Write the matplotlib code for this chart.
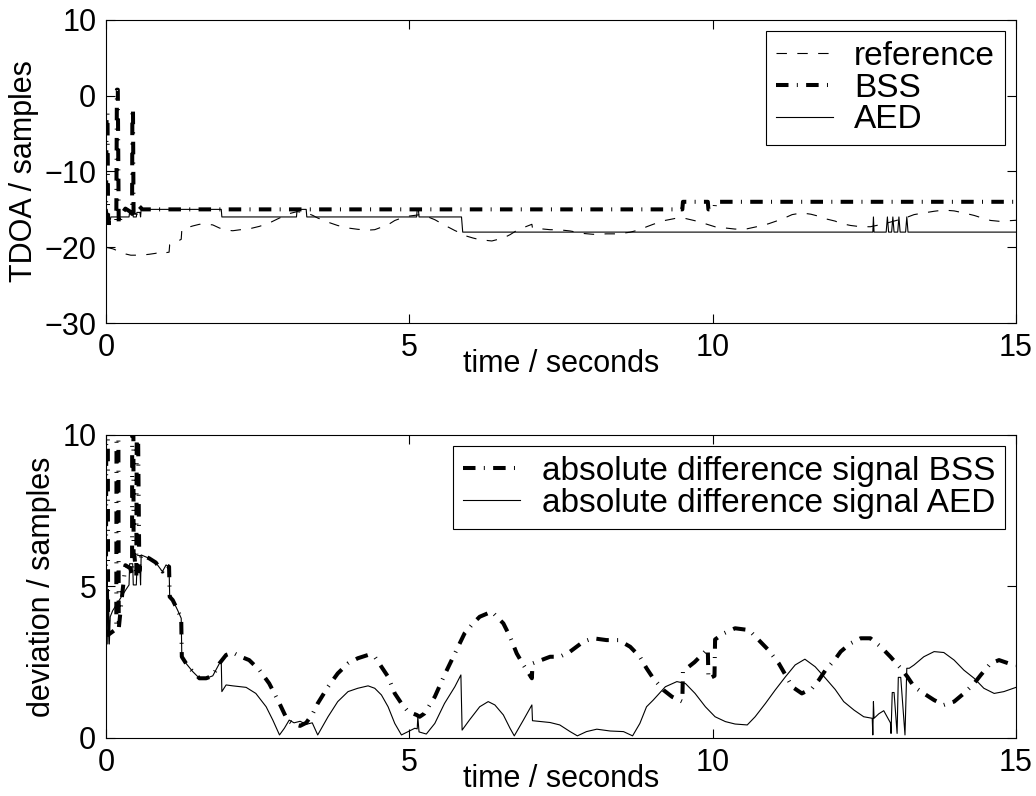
import numpy as np
import matplotlib
matplotlib.use("Agg")
import matplotlib.pyplot as plt

plt.rcParams['font.family'] = ['Liberation Sans', 'DejaVu Sans']
plt.rcParams['font.size'] = 22
plt.rcParams['lines.scale_dashes'] = False
plt.rcParams['axes.linewidth'] = 0.8

# ---------------------------------------------------------
# TDOA (samples) over time (seconds)
# ---------------------------------------------------------
t_ref = [0.0, 0.11, 0.22, 0.33, 0.41, 0.58, 0.71, 0.82, 0.93, 1.0, 1.04, 1.05, 1.1, 1.18,
         1.24, 1.25, 1.32, 1.43, 1.54, 1.65, 1.76, 1.87, 1.98, 2.09, 2.2, 2.36, 2.53, 2.69,
         2.86, 3.0, 3.15, 3.3, 3.41, 3.49, 3.66, 3.82, 3.99, 4.15, 4.32, 4.43, 4.54, 4.65,
         4.76, 4.87, 4.98, 5.12, 5.17, 5.25, 5.42, 5.58, 5.75, 5.85, 5.91, 6.05, 6.16, 6.36,
         6.55, 6.66, 6.77, 6.88, 7.02, 7.03, 7.32, 7.48, 7.65, 7.87, 8.03, 8.25, 8.45, 8.64,
         8.8, 8.91, 9.02, 9.19, 9.33, 9.41, 9.55, 9.71, 9.88, 10.04, 10.2, 10.37, 10.57,
         10.76, 10.92, 11.08, 11.2, 11.31, 11.47, 11.62, 11.75, 11.86, 12.02, 12.11, 12.27,
         12.44, 12.6, 12.77, 12.93, 13.1, 13.21, 13.32, 13.48, 13.65, 13.81, 13.98, 14.14,
         14.31, 14.42, 14.58, 14.72, 14.88, 15.0]
ref_tdoa = [-20.0, -20.2, -20.55, -20.9, -21.05, -21.04, -20.93, -20.8, -20.5, -20.7, -20.65,
            -19.66, -19.55, -19.22, -18.95, -17.68, -17.46, -17.19, -16.97, -16.95, -17.05,
            -17.46, -17.74, -17.82, -17.7, -17.57, -17.24, -16.8, -16.14, -15.6, -15.3, -15.45,
            -15.8, -16.14, -16.69, -17.13, -17.46, -17.63, -17.74, -17.68, -17.35, -17.02,
            -16.47, -16.14, -15.9, -15.76, -15.7, -15.81, -16.36, -17.08, -17.79, -18.15,
            -18.45, -18.78, -19.0, -19.17, -18.78, -18.34, -17.79, -17.41, -16.97, -17.46,
            -17.68, -17.7, -17.85, -18.18, -18.29, -18.23, -18.23, -18.01, -17.68, -17.3,
            -16.97, -16.5, -16.28, -16.15, -16.2, -16.5, -16.9, -17.3, -17.45, -17.6, -17.56,
            -17.23, -16.9, -16.46, -16.08, -15.69, -15.47, -15.64, -15.91, -16.24, -16.55,
            -16.85, -17.12, -17.29, -17.29, -17.01, -16.68, -16.3, -16.02, -15.69, -15.47,
            -15.25, -15.09, -15.2, -15.47, -15.8, -16.08, -16.46, -16.57, -16.5, -16.44]

t_bss = [0.0, 0.01, 0.025, 0.035, 0.17, 0.18, 0.195, 0.21, 0.26, 0.32, 0.4, 0.43, 0.435,
         0.445, 0.455, 0.47, 0.5, 0.55, 0.6, 9.5, 9.51, 9.92, 9.93, 10.03, 10.04, 15.0]
bss_tdoa = [-16.8, -2.3, -2.3, -16.8, -16.8, 0.8, 0.8, -17.0, -15.6, -14.9, -15.3, -15.6, -1.7,
            -1.7, -16.0, -16.2, -15.2, -14.6, -15.0, -15.0, -14.0, -14.0, -15.0, -15.0, -14.0,
            -14.0]

t_aed = [0.0, 0.02, 0.03, 0.04, 0.055, 0.07, 0.08, 0.38, 0.39, 0.44, 0.45, 0.5, 0.51, 0.56,
         0.57, 0.58, 1.9, 1.91, 3.14, 3.15, 3.3, 3.31, 5.12, 5.13, 5.15, 5.16, 5.86, 5.88,
         12.64, 12.65, 12.66, 12.86, 12.88, 12.9, 12.95, 12.97, 12.99, 13.05, 13.07, 13.09,
         13.18, 13.2, 13.22, 15.0]
aed_tdoa = [-15.0, -15.0, -17.0, -15.5, -17.0, -16.4, -16.0, -16.0, -15.3, -15.3, -16.0, -16.0,
            -15.4, -15.4, -16.0, -15.0, -15.0, -16.0, -16.0, -15.0, -15.0, -16.0, -16.0, -15.0,
            -15.0, -16.0, -16.0, -18.0, -18.0, -16.0, -18.0, -18.0, -16.0, -18.0, -18.0, -16.0,
            -18.0, -18.0, -16.0, -18.0, -18.0, -16.0, -18.0, -18.0]

# ---------------------------------------------------------
# absolute deviation from reference (samples)
# ---------------------------------------------------------
t_bss_dev = [0.0, 0.01, 0.025, 0.035, 0.17, 0.18, 0.195, 0.21, 0.26, 0.32, 0.4, 0.43, 0.435,
             0.445, 0.455, 0.47, 0.5, 0.51, 0.52, 0.55, 0.58, 0.71, 0.82, 0.93, 0.99, 1.04,
             1.05, 1.1, 1.18, 1.24, 1.25, 1.32, 1.43, 1.54, 1.65, 1.76, 1.87, 1.98, 2.09, 2.2,
             2.36, 2.53, 2.69, 2.86, 2.99, 3.1, 3.2, 3.3, 3.41, 3.49, 3.66, 3.82, 3.99, 4.15,
             4.32, 4.43, 4.54, 4.65, 4.76, 4.87, 4.98, 5.12, 5.17, 5.25, 5.42, 5.58, 5.75, 5.91,
             6.05, 6.16, 6.36, 6.55, 6.66, 6.77, 6.88, 7.02, 7.03, 7.32, 7.48, 7.65, 7.87,
             8.03, 8.25, 8.45, 8.64, 8.8, 8.91, 9.02, 9.19, 9.33, 9.5, 9.51, 9.7, 9.85, 9.92,
             9.93, 10.03, 10.04, 10.18, 10.37, 10.6, 10.76, 10.92, 11.09, 11.2, 11.31, 11.47,
             11.64, 11.75, 11.86, 12.02, 12.11, 12.27, 12.44, 12.6, 12.77, 12.93, 13.1, 13.21,
             13.32, 13.48, 13.65, 13.81, 13.98, 14.14, 14.31, 14.42, 14.58, 14.72, 14.88, 15.0]
bss_dev = [5.0, 17.7, 17.7, 3.4, 3.6, 21.2, 21.2, 3.6, 4.6, 5.7, 5.6, 5.4, 19.0, 19.0, 6.1, 6.0,
           5.3, 12.0, 12.0, 5.5, 6.04, 5.93, 5.79, 5.49, 5.71, 5.65, 4.66, 4.55, 4.22, 3.95,
           2.68, 2.46, 2.19, 1.97, 1.97, 2.05, 2.46, 2.74, 2.82, 2.7, 2.57, 2.24, 1.8, 1.14,
           0.59, 0.45, 0.4, 0.5, 0.81, 1.14, 1.69, 2.13, 2.46, 2.63, 2.74, 2.68, 2.35, 2.02,
           1.47, 1.14, 0.87, 0.76, 0.7, 0.81, 1.36, 2.08, 2.79, 3.45, 3.78, 4.0, 4.17, 3.78,
           3.34, 2.79, 2.41, 1.97, 2.46, 2.68, 2.68, 2.85, 3.18, 3.29, 3.23, 3.23, 3.01, 2.68,
           2.3, 1.97, 1.58, 1.36, 1.2, 2.2, 2.5, 2.8, 2.95, 1.95, 2.05, 3.25, 3.45, 3.62, 3.56,
           3.23, 2.9, 2.46, 2.08, 1.69, 1.47, 1.64, 1.91, 2.24, 2.6, 2.85, 3.12, 3.29, 3.29,
           3.01, 2.68, 2.3, 2.02, 1.69, 1.47, 1.25, 1.09, 1.2, 1.47, 1.8, 2.08, 2.46, 2.57,
           2.46, 2.4]

t_aed_dev = [0.0, 0.02, 0.03, 0.04, 0.055, 0.07, 0.11, 0.22, 0.33, 0.38, 0.39, 0.44, 0.45,
             0.5, 0.51, 0.56, 0.57, 0.58, 0.71, 0.82, 0.93, 0.99, 1.04, 1.05, 1.1, 1.18, 1.24,
             1.25, 1.32, 1.43, 1.54, 1.65, 1.76, 1.87, 1.9, 1.91, 1.98, 2.09, 2.31, 2.47, 2.64,
             2.75, 2.86, 2.94, 3.02, 3.1, 3.2, 3.3, 3.4, 3.49, 3.66, 3.82, 3.99, 4.15, 4.32,
             4.43, 4.54, 4.65, 4.76, 4.87, 4.98, 5.09, 5.13, 5.14, 5.16, 5.28, 5.42, 5.58, 5.75,
             5.85, 5.87, 5.99, 6.16, 6.3, 6.41, 6.55, 6.66, 6.73, 6.88, 7.02, 7.03, 7.32, 7.48,
             7.65, 7.77, 7.92, 8.09, 8.31, 8.53, 8.68, 8.8, 8.91, 9.02, 9.22, 9.41, 9.55, 9.71,
             9.88, 10.04, 10.21, 10.37, 10.57, 10.7, 10.87, 11.03, 11.2, 11.36, 11.52, 11.69,
             11.86, 12.02, 12.16, 12.33, 12.49, 12.63, 12.64, 12.65, 12.66, 12.74, 12.82, 12.93,
             12.94, 12.96, 12.99, 13.04, 13.06, 13.1, 13.17, 13.2, 13.24, 13.32, 13.48, 13.65,
             13.81, 13.98, 14.14, 14.31, 14.47, 14.64, 14.8, 15.0]
aed_dev = [5.05, 5.0, 3.1, 4.9, 3.1, 4.0, 4.2, 4.55, 4.9, 5.05, 5.75, 5.75, 5.05, 5.05, 5.6,
           5.6, 5.05, 6.04, 5.93, 5.79, 5.49, 5.71, 5.65, 4.66, 4.55, 4.22, 3.95, 2.68, 2.46,
           2.19, 1.97, 1.97, 2.05, 2.46, 2.55, 1.53, 1.75, 1.72, 1.67, 1.47, 1.03, 0.59, 0.1,
           0.32, 0.59, 0.5, 0.55, 0.45, 0.5, 0.1, 0.7, 1.2, 1.53, 1.64, 1.72, 1.64, 1.42, 1.03,
           0.48, 0.1, 0.21, 0.32, 0.3, 0.7, 0.2, 0.13, 0.48, 1.14, 1.69, 2.08, 0.26, 0.59, 1.03,
           1.2, 1.09, 0.76, 0.32, 0.07, 0.59, 1.09, 0.57, 0.51, 0.43, 0.21, 0.07, 0.21, 0.29,
           0.23, 0.21, 0.07, 0.48, 1.03, 1.25, 1.69, 1.86, 1.8, 1.47, 1.03, 0.7, 0.54, 0.46,
           0.43, 0.7, 1.14, 1.58, 2.02, 2.41, 2.6, 2.35, 1.97, 1.6, 1.2, 0.92, 0.7, 0.65, 0.1,
           1.2, 0.65, 0.8, 0.9, 0.5, 0.15, 1.5, 1.5, 0.15, 2.0, 2.0, 0.1, 2.3, 2.3, 2.41, 2.68,
           2.85, 2.82, 2.57, 2.24, 1.97, 1.64, 1.47, 1.53, 1.67]

REF_DASH = (0, (7.5, 7.5))
BSS_DASH = (0, (9.0, 6.0, 0.7, 6.0))
LEGEND_OPTS = dict(loc='upper right', bbox_to_anchor=(0.988, 0.964), borderaxespad=0,
                   fancybox=False, framealpha=1, edgecolor='k', fontsize=24,
                   handlelength=1.7, handletextpad=0.65, borderpad=0.3, labelspacing=0.02)


def style_axes(ax):
    ax.tick_params(direction='in', length=6.5, width=0.8, top=True, right=True, pad=7)
    for s in ax.spines.values():
        s.set_linewidth(0.8)


fig = plt.figure(figsize=(10.36, 7.96), dpi=100)

# ---------------------------------------------------------
# 上段: TDOA
# ---------------------------------------------------------
ax1 = fig.add_axes([0.1023, 0.5942, 0.8784, 0.3807])
ax1.plot(t_ref, ref_tdoa, color='k', lw=0.8, linestyle=REF_DASH, label='reference')
ax1.plot(t_bss, bss_tdoa, color='k', lw=2.9, linestyle=BSS_DASH, label='BSS')
ax1.plot(t_aed, aed_tdoa, color='k', lw=0.8, label='AED')
ax1.set_xlim(0, 15)
ax1.set_ylim(-30, 10)
ax1.set_xticks([0, 5, 10, 15])
ax1.set_yticks([-30, -20, -10, 0, 10])
ax1.set_xlabel('time / seconds', va='top')
ax1.xaxis.set_label_coords(0.5, -0.085)
ax1.set_ylabel('TDOA / samples')
style_axes(ax1)
leg1 = ax1.legend(**LEGEND_OPTS)
leg1.get_frame().set_linewidth(0.8)

# ---------------------------------------------------------
# 下段: 絶対偏差
# ---------------------------------------------------------
ax2 = fig.add_axes([0.1023, 0.0729, 0.8784, 0.3807])
ax2.plot(t_bss_dev, bss_dev, color='k', lw=2.9, linestyle=BSS_DASH,
         label='absolute difference signal BSS')
ax2.plot(t_aed_dev, aed_dev, color='k', lw=0.8, label='absolute difference signal AED')
ax2.set_xlim(0, 15)
ax2.set_ylim(0, 10)
ax2.set_xticks([0, 5, 10, 15])
ax2.set_yticks([0, 5, 10])
ax2.set_xlabel('time / seconds', va='top')
ax2.xaxis.set_label_coords(0.5, -0.085)
ax2.set_ylabel('deviation / samples')
style_axes(ax2)
leg2 = ax2.legend(**LEGEND_OPTS)
leg2.get_frame().set_linewidth(0.8)

fig.savefig('out.png', dpi=100)
